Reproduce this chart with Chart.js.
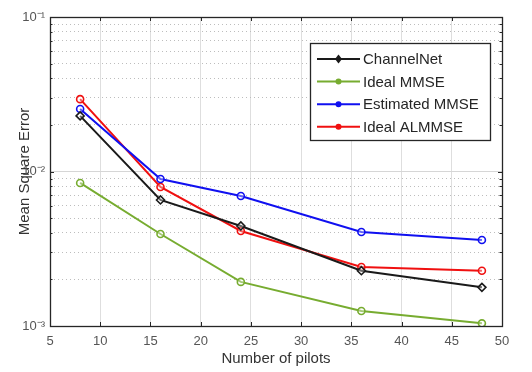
<!DOCTYPE html>
<html>
<head>
<meta charset="utf-8">
<script src="https://cdn.jsdelivr.net/npm/chart.js@4"></script>
<style>
  body { margin: 0; background: #fff; }
  #wrap { width: 532px; height: 372px; }
</style>
</head>
<body>
<div id="wrap"><canvas id="myChart"></canvas></div>
<script>
// Datos
const pilotos = [8, 16, 24, 36, 48];
const channelNet = [0.0229, 0.00654, 0.00444, 0.00228, 0.00178];
const idealMMSE = [0.00843, 0.00394, 0.00193, 0.00125, 0.00104];
const estimatedMMSE = [0.0254, 0.00894, 0.00694, 0.00406, 0.0036];
const idealALMMSE = [0.0294, 0.00794, 0.00412, 0.00241, 0.00228];
const xTicks = [5, 10, 15, 20, 25, 30, 35, 40, 45, 50];
const decadas = [0.001, 0.01, 0.1];
const etiquetasY = { 0.001: '10⁻³', 0.01: '10⁻²', 0.1: '10⁻¹' };

const fuente = '"Liberation Sans", Arial, sans-serif';

function serie(nombre, valores, color, estilo) {
  return {
    label: nombre,
    data: pilotos.map((x, i) => ({ x: x, y: valores[i] })),
    borderColor: color,
    backgroundColor: color,
    pointBackgroundColor: 'rgba(255,255,255,0.35)',
    pointBorderColor: color,
    pointBorderWidth: 1.6,
    pointRadius: estilo === 'rectRot' ? 4 : 3.5,
    pointStyle: estilo,
    borderWidth: 2,
    tension: 0
  };
}

// Caja y leyenda dibujadas dentro del área del gráfico
const cajaPlugin = {
  id: 'caja',
  afterDatasetsDraw(chart) {
    const ctx = chart.ctx;
    const a = chart.chartArea;
    const xs = chart.scales.x, ys = chart.scales.y;
    ctx.save();
    ctx.strokeStyle = '#262626';
    ctx.lineWidth = 1;
    // marcas hacia adentro
    ctx.beginPath();
    xs.ticks.forEach(t => {
      const px = Math.round(xs.getPixelForValue(t.value)) + 0.5;
      ctx.moveTo(px, a.bottom); ctx.lineTo(px, a.bottom - 4);
      ctx.moveTo(px, a.top); ctx.lineTo(px, a.top + 4);
    });
    ys.ticks.forEach(t => {
      const py = Math.round(ys.getPixelForValue(t.value)) + 0.5;
      const l = decadas.includes(t.value) ? 4 : 2.5;
      ctx.moveTo(a.left, py); ctx.lineTo(a.left + l, py);
      ctx.moveTo(a.right, py); ctx.lineTo(a.right - l, py);
    });
    ctx.stroke();
    ctx.lineWidth = 1.3;
    ctx.strokeRect(Math.round(a.left) + 0.5, Math.round(a.top) + 0.5,
      Math.round(a.right - a.left), Math.round(a.bottom - a.top));

    // leyenda
    const lx = 310, ly = 43, lw = 180, lh = 97;
    ctx.fillStyle = '#fff';
    ctx.fillRect(lx, ly, lw, lh);
    ctx.strokeStyle = '#262626';
    ctx.lineWidth = 1.3;
    ctx.strokeRect(lx + 0.5, ly + 0.5, lw, lh);
    ctx.font = '15px ' + fuente;
    ctx.textBaseline = 'middle';
    chart.data.datasets.forEach((d, i) => {
      const y = ly + 16 + i * 22.6;
      ctx.strokeStyle = d.borderColor;
      ctx.lineWidth = 2;
      ctx.beginPath();
      ctx.moveTo(lx + 7, y); ctx.lineTo(lx + 50, y);
      ctx.stroke();
      ctx.fillStyle = d.borderColor;
      ctx.beginPath();
      if (d.pointStyle === 'rectRot') {
        ctx.moveTo(lx + 28.5, y - 4.5); ctx.lineTo(lx + 32, y);
        ctx.lineTo(lx + 28.5, y + 4.5); ctx.lineTo(lx + 25, y);
        ctx.closePath();
      } else {
        ctx.arc(lx + 28.5, y, 3, 0, Math.PI * 2);
      }
      ctx.fill();
      ctx.fillStyle = '#262626';
      ctx.fillText(d.label, lx + 53, y + 1);
    });
    ctx.restore();
  }
};

const ctx = document.getElementById('myChart');
new Chart(ctx, {
  type: 'line',
  data: {
    datasets: [
      serie('ChannelNet', channelNet, '#1a1a1a', 'rectRot'),
      serie('Ideal MMSE', idealMMSE, '#77AC30', 'circle'),
      serie('Estimated MMSE', estimatedMMSE, '#1010F0', 'circle'),
      serie('Ideal ALMMSE', idealALMMSE, '#F01010', 'circle')
    ]
  },
  options: {
    responsive: true,
    maintainAspectRatio: false,
    animation: false,
    layout: { padding: { top: 17, right: 30, left: 0, bottom: 0 } },
    plugins: { legend: { display: false }, tooltip: { enabled: false } },
    scales: {
      x: {
        type: 'linear',
        min: 5,
        max: 50,
        afterBuildTicks: s => { s.ticks = xTicks.map(v => ({ value: v })); },
        afterFit: s => { s.height = 46; },
        grid: { color: '#dedede', lineWidth: 1, drawTicks: false },
        border: { display: false },
        ticks: { color: '#555', font: { family: fuente, size: 13 }, padding: 8, maxRotation: 0 },
        title: { display: true, text: 'Number of pilots', color: '#333', font: { family: fuente, size: 15 }, padding: { top: 5 } }
      },
      y: {
        type: 'logarithmic',
        min: 0.001,
        max: 0.1,
        afterBuildTicks: s => {
          const t = [];
          decadas.forEach(d => {
            for (let k = 1; k <= 9; k++) {
              const v = +(d * k).toPrecision(3);
              if (v <= 0.1) t.push({ value: v });
            }
          });
          s.ticks = t;
        },
        afterFit: s => { s.width = 50; },
        grid: {
          color: c => decadas.includes(c.tick && c.tick.value) ? '#d6d6d6' : '#bdbdbd',
          lineWidth: 1,
          drawTicks: false
        },
        border: {
          display: false,
          dash: c => decadas.includes(c.tick && c.tick.value) ? [] : [1, 3]
        },
        ticks: {
          color: '#555',
          font: { family: fuente, size: 13 },
          padding: 5,
          autoSkip: false,
          callback: v => etiquetasY[v] || ''
        },
        title: { display: true, text: 'Mean Square Error', color: '#333', font: { family: fuente, size: 15 }, padding: { top: 16, bottom: 0 } }
      }
    }
  },
  plugins: [cajaPlugin]
});
</script>
</body>
</html>
